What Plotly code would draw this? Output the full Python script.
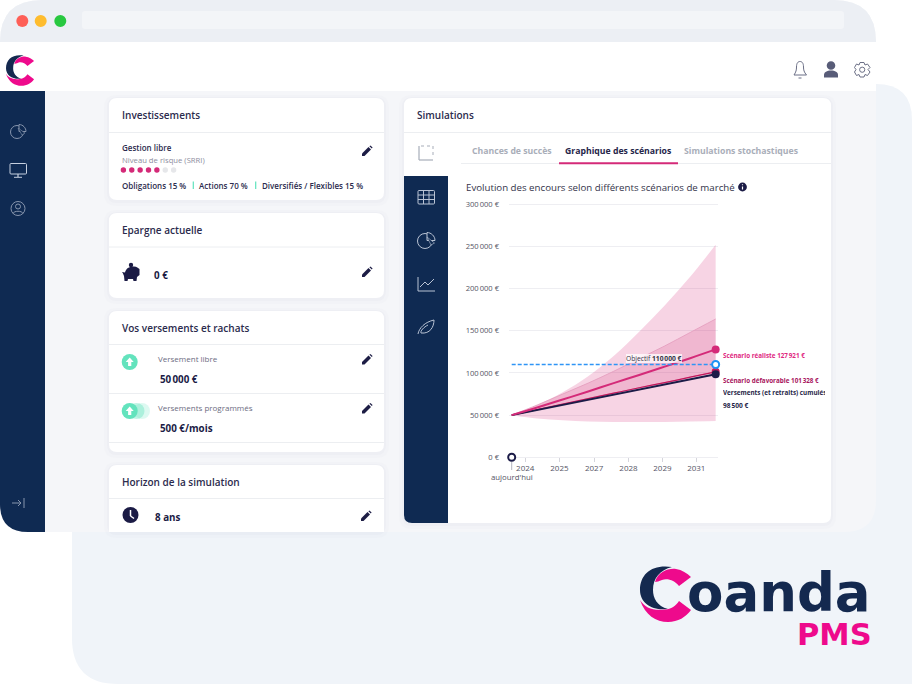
import re
import plotly.graph_objects as go

# chart data (years since today)
years = [0, 1, 2, 3, 4, 5, 6, 7, 8]
band_high = [50000, 62000, 77000, 96000, 120000, 149000, 180000, 214000, 252000]
band_low = [50000, 46000, 43800, 42500, 42000, 41800, 42000, 42500, 43000]
favorable = [50000, 62000, 75000, 88000, 102000, 117000, 132000, 148000, 164000]
realiste = [50000, 59000, 68500, 78000, 88000, 97500, 107500, 117500, 127921]
defavorable = [50000, 56500, 63000, 69500, 76000, 82500, 88500, 95000, 101328]
cumul = [50000, 56000, 62000, 68000, 74000, 80500, 86500, 92500, 98500]
objectif = [110000] * 9
tick_years = [0.53, 1.87, 3.23, 4.58, 5.91, 7.24]
tick_labels = ["2024", "2025", "2027", "2028", "2029", "2031"]
y_ticks = [0, 50000, 100000, 150000, 200000, 250000, 300000]
y_labels = ["0 €", "50\u202f000 €", "100\u202f000 €", "150\u202f000 €", "200\u202f000 €", "250\u202f000 €", "300\u202f000 €"]

NAVY = "#0f2a52"
INK = "#2b2b4d"
PINK = "#d42a78"
FONT = "Open Sans"
W, H = 912, 684

shapes = []
notes = []


def rr(x0, y0, x1, y1, tl, tr=None, br=None, bl=None):
    tr = tl if tr is None else tr
    br = tl if br is None else br
    bl = tl if bl is None else bl
    return (f"M {x0+tl} {y0} L {x1-tr} {y0} Q {x1} {y0} {x1} {y0+tr} L {x1} {y1-br} Q {x1} {y1} {x1-br} {y1} "
            f"L {x0+bl} {y1} Q {x0} {y1} {x0} {y1-bl} L {x0} {y0+tl} Q {x0} {y0} {x0+tl} {y0} Z")


def box(path, fill, line=None, width=1, opacity=1):
    shapes.append(dict(type="path", xref="x2", yref="y2", layer="below", path=path, fillcolor=fill, opacity=opacity,
                       line=dict(color=line or "rgba(0,0,0,0)", width=width if line else 0)))


def moved(path, ox, oy, s=1.0):
    # shift and scale a path made of M/L/C/Z commands only
    nums = iter(range(10000))
    def fix(m):
        v = float(m.group(0))
        return f"{v*s+ox:.2f}" if next(nums) % 2 == 0 else f"{v*s+oy:.2f}"
    return re.sub(r"-?\d+\.?\d*", fix, path)


def dot(cx, cy, r, fill, line=None, width=1, opacity=1):
    shapes.append(dict(type="circle", xref="x2", yref="y2", layer="below", x0=cx-r, x1=cx+r, y0=cy-r, y1=cy+r, opacity=opacity,
                       fillcolor=fill, line=dict(color=line or "rgba(0,0,0,0)", width=width if line else 0)))


def seg(x0, y0, x1, y1, color, width=1):
    shapes.append(dict(type="line", xref="x2", yref="y2", layer="below", x0=x0, x1=x1, y0=y0, y1=y1,
                       line=dict(color=color, width=width)))


def stroke(path, color, width=1, dash="solid"):
    shapes.append(dict(type="path", xref="x2", yref="y2", layer="below", path=path, line=dict(color=color, width=width, dash=dash)))


def label(x, y, text, size=8.5, color=INK, weight=400, anchor="left", family=FONT):
    notes.append(dict(xref="x2", yref="y2", x=x, y=y, text=text, showarrow=False, xanchor=anchor, yanchor="middle",
                      borderpad=0, borderwidth=0,
                      font=dict(size=size, color=color, family=family, weight=weight)))


def card(x0, y0, x1, y1, lines, bottom=8):
    box(rr(x0-5, y0-3, x1+5, y1+6, 12), "rgba(30,40,80,0.012)")
    box(rr(x0-2, y0-1, x1+2, y1+3, 10), "rgba(30,40,80,0.018)")
    box(rr(x0, y0, x1, y1, 8, 8, bottom, bottom), "#ffffff")
    for ly in lines:
        seg(x0, ly, x1, ly, "#eceef1", 1)


# backdrop and browser window
box(rr(72, 84, 912, 684, 36, 36, 0, 46), "#f0f4f9")
box(rr(0, 0, 876, 532, 42, 42, 32, 30), "#f5f6f9")
box(rr(0, 0, 876, 42, 42, 42, 0, 0), "#eceff4")
box(rr(0, 42, 876, 91, 0), "#ffffff")
box(rr(0, 91, 45, 532, 0, 0, 0, 28), NAVY)
box(rr(82, 11, 844, 29, 3), "#f3f5f8")
dot(22.3, 21, 6, "#fe5f57")
dot(40.7, 21, 6, "#febc2e")
dot(60.3, 21, 6, "#28c840")

# coanda logo, big and small
LOGO_NAVY = ("M 32 1 C 12 -2 0 8 0 24 C 0 37 12 45 28 43 C 17 40 13 32 13 24 C 13 12 20 4 32 1 Z")
LOGO_TOP = ("M 15 16 C 18 6 28 2 36 3 C 42 4 47 7 51 11 L 39 20 C 35 15 28 12 22 14 C 19 15 17 16 15 16 Z")
LOGO_LOW = ("M 0 34 C 5 49 16 56 28 56 C 38 56 46 51 51 44 L 39 35 C 36 40 31 43 25 43.5 C 13 45 5 42 0 34 Z")
for ox, oy, s in [(640, 566, 1.0), (6, 55, 0.55)]:
    box(moved(LOGO_NAVY, ox, oy, s), "#14294f")
    box(moved(LOGO_TOP, ox, oy, s), "#ee0a8c")
    box(moved(LOGO_LOW, ox, oy, s), "#ee0a8c")
label(687, 592, "oanda", 53, "#14294f", 700, family="DejaVu Sans")
label(797, 634, "PMS", 30.5, "#ee0a8c", 700, family="DejaVu Sans")

# top bar icons
HEAD = "#6b6f86"
box("M 794 75 C 796 72 796.5 70 796.5 67 C 796.5 63 798 61.5 800 61.5 C 802 61.5 803.5 63 803.5 67 C 803.5 70 804 72 806.5 75 Z",
    "#ffffff", HEAD, 1)
seg(798.5, 78, 801.5, 78, HEAD, 1)
dot(831, 65.5, 4.3, "#585c78")
box("M 824 77.5 L 824 75 C 824 72 827 70.5 831 70.5 C 835 70.5 838 72 838 75 L 838 77.5 Z", "#585c78")
box("M 860 62.5 L 864 62.5 L 865 65 L 867.5 64 L 870 67.5 L 868 69.5 L 870 72 L 867.5 75.5 L 865 74.5 L 864 77 L 860 77 L 859 74.5 L 856.5 75.5 L 854.5 72 L 856 69.5 L 854.5 67.5 L 856.5 64 L 859 65 Z",
    "#ffffff", HEAD, 1)
dot(862.2, 69.7, 2.6, "#ffffff", HEAD, 1)

# left rail icons
RAIL = "#8795ad"
dot(17, 132, 6.5, NAVY, RAIL, 1)
box("M 19 124.5 C 23 124.5 26 128 26 131.5 L 19 131.5 Z", NAVY, RAIL, 1)
box("M 18 128 L 22 135 L 25 133 Z", NAVY, RAIL, 0.6)
box(rr(10, 163.5, 26.5, 174, 1), NAVY, "#c5cfdf", 1)
seg(18, 174, 18, 177, "#c5cfdf", 1.2)
seg(14, 177.3, 22, 177.3, "#c5cfdf", 1)
dot(18, 208.5, 7, NAVY, RAIL, 1)
dot(18, 206.5, 2.5, NAVY, RAIL, 1)
stroke("M 13 213.5 C 14 210.5 22 210.5 23 213.5", RAIL)
seg(12, 503, 21, 503, RAIL, 1)
seg(18, 500, 21, 503, RAIL, 1)
seg(18, 506, 21, 503, RAIL, 1)
seg(24, 498, 24, 508, RAIL, 1)

# left column cards
card(109, 98, 384, 200, [132.5])
card(109, 213, 384, 298, [247])
card(109, 311, 384, 452, [344.5, 393.5, 442.5])
card(109, 465, 384, 532, [498.5], bottom=0)

PENCIL = "M -5 5 L -5 2.5 L 1.5 -4 L 4 -1.5 L -2.5 5 Z"
PENCIL_TOP = "M 2.4 -4.8 L 3.4 -5.6 L 5.6 -3.4 L 4.8 -2.4 Z"
for px, py in [(367, 151), (367, 272), (367, 359.5), (367, 408.5), (366, 516)]:
    box(moved(PENCIL, px, py), "#1d1d45")
    box(moved(PENCIL_TOP, px, py), "#1d1d45")

label(122, 115, "Investissements", 10, INK, 600)
label(122, 147.3, "Gestion libre", 8, INK, 600)
label(122, 160, "Niveau de risque (SRRI)", 7.7, "#8d8d9e")
risk_on = [1, 1, 1, 1, 1, 0, 0]
for i, on in enumerate(risk_on):
    dot(123.4 + i * 8.37, 170, 2.7, PINK if on else "#e6e7ea")
label(122, 185, "Obligations 15 %", 8, INK, 600)
seg(193.3, 181.5, 193.3, 189, "#5fe3bd", 1.2)
label(199, 185, "Actions 70 %", 8, INK, 600)
seg(255.7, 181.5, 255.7, 189, "#5fe3bd", 1.2)
label(262, 185, "Diversifiés / Flexibles 15 %", 8, INK, 600)

label(122, 230, "Epargne actuelle", 10, INK, 600)
box("M 122 272 L 125 272.5 C 126 268 130 266.5 134 266.5 C 137 266.5 138 268 139.5 269 L 139.5 275 L 137 277 L 136.5 281 L 133.5 281 L 133 279 L 128 279 L 127.5 281 L 124.5 281 L 124 276 C 123.5 275 123.5 274 122 272 Z", "#1b1b45")
dot(131, 265, 2.2, "#1b1b45")
label(154, 275, "0 €", 9.8, "#1b1b45", 700)

label(122, 328, "Vos versements et rachats", 10, INK, 600)
TEAL = "#63e3bd"
ARROW = "M 0 -4.5 L 4 0 L 1.6 0 L 1.6 4 L -1.6 4 L -1.6 0 L -4 0 Z"
dot(129.7, 362, 8, TEAL)
box(moved(ARROW, 129.7, 362), "#ffffff")
dot(142, 411, 8, TEAL, opacity=0.22)
dot(136.5, 411, 8, TEAL, opacity=0.4)
dot(129.7, 411, 8, TEAL)
box(moved(ARROW, 129.7, 411), "#ffffff")
label(158, 358.4, "Versement libre", 8, "#6c6c82")
label(160, 379, "50\u202f000 €", 9.8, "#1b1b45", 700)
label(158, 407.5, "Versements programmés", 8, "#6c6c82")
label(160, 428, "500 €/mois", 9.8, "#1b1b45", 700)

label(122, 481.5, "Horizon de la simulation", 10, INK, 600)
dot(130.5, 515, 8, "#1b1b45")
seg(130.5, 510, 130.5, 516, "#ffffff", 1.5)
seg(130.5, 516, 134, 518.5, "#ffffff", 1.5)
label(155, 517, "8 ans", 9.8, "#1b1b45", 700)

# simulations card
card(404, 98, 831, 523, [132.5])
box(rr(404, 176, 448, 523, 0, 0, 0, 8), NAVY)
seg(461, 163.5, 831, 163.5, "#eceef1", 1)
seg(559, 163.3, 678, 163.3, PINK, 2)
label(417, 115, "Simulations", 10, INK, 600)
label(472, 151, "Chances de succès", 8.7, "#a9aeb9", 700)
label(565, 151, "Graphique des scénarios", 8.7, "#26264a", 700)
label(684, 151, "Simulations stochastiques", 8.7, "#a9aeb9", 700)
label(466, 187, "Evolution des encours selon différents scénarios de marché", 9.7, "#33334a")
dot(742.5, 187, 4.4, "#1b1b45")
seg(742.5, 186.5, 742.5, 189.5, "#ffffff", 1.2)
seg(742.5, 184.3, 742.5, 185.2, "#ffffff", 1.2)

# side tabs icons
SIDE = "#b9c3d4"
seg(419, 146, 419, 160, "#a7adb9", 1.2)
seg(419, 160, 433, 160, "#a7adb9", 1.2)
stroke("M 421 146 L 433 146 L 433 158", "#a7adb9", 1, "dot")
box(rr(418, 190.5, 434.5, 204, 1), NAVY, SIDE, 1)
for gy in [195, 199.5]:
    seg(418, gy, 434.5, gy, SIDE, 1)
for gx in [423.5, 429]:
    seg(gx, 190.5, gx, 204, SIDE, 1)
dot(425, 241, 7.5, NAVY, SIDE, 1)
box("M 427 232.5 C 431 232.5 435 236 435 240.5 L 427 240.5 Z", NAVY, SIDE, 1)
box("M 427 237 L 431 245 L 434.5 243 Z", NAVY, SIDE, 0.6)
stroke("M 418 277 L 418 291 L 435 291", SIDE)
stroke("M 420 287 L 425 282 L 428 285 L 434 279", SIDE)
stroke("M 418 334 C 419 328 425 322 434 320 C 434 327 430 334 421 333 C 420 331 424 327 428 325", SIDE)

fig = go.Figure()

# empty trace keeps the pixel axes alive, subplot x2y2 is drawn before the chart in x3y3
fig.add_trace(go.Scatter(x=[0, W], y=[0, H], mode="none", xaxis="x2", yaxis="y2", hoverinfo="skip"))


def add(values, **kw):
    fig.add_trace(go.Scatter(x=years, y=values, xaxis="x3", yaxis="y3", cliponaxis=False, hoverinfo="skip", **kw))


def end_dot(x, y, **marker):
    fig.add_trace(go.Scatter(x=[x], y=[y], xaxis="x3", yaxis="y3", cliponaxis=False, hoverinfo="skip",
                             mode="markers", marker=marker))


add(band_low, mode="lines", line=dict(width=0, shape="spline"))
add(band_high, mode="lines", line=dict(width=0, shape="spline"), fill="tonexty", fillcolor="rgba(214,42,120,0.2)")
add(defavorable, mode="lines", line=dict(width=0.8, color="#d96a9d", shape="spline"))
add(favorable, mode="lines", line=dict(width=0.8, color="#e39cbd", shape="spline"), fill="tonexty",
    fillcolor="rgba(205,40,110,0.17)")
add(defavorable, mode="lines", line=dict(width=1.2, color="#c2185b", shape="spline"))
add(cumul, mode="lines", line=dict(width=2, color="#1b1b47"))
add(realiste, mode="lines", line=dict(width=2, color=PINK, shape="spline"))
add(objectif, mode="lines", line=dict(width=1.6, color="#2f95f5", dash="4px,2px"))
end_dot(years[-1], defavorable[-1], size=8, color="#c2185b")
end_dot(years[-1], cumul[-1], size=8, color="#1b1b47")
end_dot(years[-1], realiste[-1], size=8, color=PINK)
end_dot(years[-1], objectif[-1], size=7, color="#ffffff", line=dict(color="#1f93f5", width=2))
end_dot(0, 0, size=7, color="#ffffff", line=dict(color="#1b1b47", width=2))

# the cumul label runs out of the card, the clip of this small axis cuts it
fig.add_trace(go.Scatter(x=[0], y=[0], xaxis="x4", yaxis="y4", mode="text", cliponaxis=True, hoverinfo="skip",
                         text=["Versements (et retraits) cumulés"], textposition="middle right",
                         textfont=dict(size=6.3, color="#1f1f48", family=FONT, weight=700)))

seg(511.7, 462, 511.7, 470, "#b5b5c0", 1)
label(512, 477, "aujourd'hui", 7.8, "#555566", 400, "center")
label(653.5, 358.7, "Objectif <b>110\u202f000 €</b>", 6.7, "#333344", 400, "center")
notes[-1]["bgcolor"] = "rgba(255,255,255,0.75)"
label(723, 355, "Scénario réaliste 127\u202f921 €", 6.3, "#e0287f", 700)
label(723, 380, "Scénario défavorable 101\u202f328 €", 6.3, "#a8155e", 700)
label(723, 405, "98\u202f500 €", 6.6, "#1f1f48", 700)

fig.update_layout(
    template="none",
    width=W,
    height=H,
    autosize=False,
    margin=dict(l=0, r=0, t=0, b=0, pad=0),
    paper_bgcolor="#ffffff",
    plot_bgcolor="rgba(0,0,0,0)",
    showlegend=False,
    font=dict(family=FONT),
    shapes=shapes,
    annotations=notes,
    # whole page in pixels, for the dashboard drawing
    xaxis2=dict(domain=[0, 1], range=[0, W], visible=False, fixedrange=True, anchor="y2"),
    yaxis2=dict(domain=[0, 1], range=[H, 0], visible=False, fixedrange=True, anchor="x2"),
    # the chart itself, axis range runs a bit past 300000 so that top gridline shows
    xaxis3=dict(domain=[509 / W, 717.7 / W], range=[-0.106, 8.08], anchor="y3", showgrid=False, zeroline=False,
                showline=True, linecolor="#eeeef2", layer="below traces", tickmode="array", tickvals=tick_years,
                ticktext=tick_labels, ticks="outside", ticklen=4, tickcolor="#d5d5dc", tickwidth=1,
                tickfont=dict(size=8, color="#555566"), ticklabelstandoff=-1),
    yaxis3=dict(domain=[1 - 457.3 / H, 1 - 202.6 / H], range=[0, 302000], anchor="x3", gridcolor="#eeeef2", gridwidth=1,
                zeroline=False, showline=False, tickmode="array", tickvals=y_ticks, ticktext=y_labels,
                ticks="", tickfont=dict(size=7.6, color="#555566"), ticklabelstandoff=9),
    xaxis4=dict(domain=[723 / W, 825 / W], range=[0, 1], anchor="y4", visible=False),
    yaxis4=dict(domain=[1 - 399 / H, 1 - 388 / H], range=[-1, 1], anchor="x4", visible=False),
)

fig.write_html("out.html", config={"displayModeBar": False}, post_script="document.body.style.margin='0';")
